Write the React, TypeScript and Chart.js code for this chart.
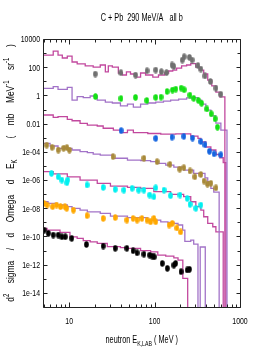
import React, { useEffect, useRef } from "react";
import { Chart, registerables } from "chart.js";

Chart.register(...registerables);

const FONT = "'Liberation Sans', Arial, sans-serif";
const SQUEEZE = 0.73; // horizontal squeeze of the narrow Helvetica-like lettering

const TITLE = "C + Pb  290 MeV/A   all b";

const X_MIN = 5;
const X_MAX = 1000;
const Y_MIN = 1e-15;
const Y_MAX = 1e4;

const xTickValues = [10, 100, 1000];
const xTickLabels = ["10", "100", "1000"];
const yTickValues = [1e4, 1e2, 1, 1e-2, 1e-4, 1e-6, 1e-8, 1e-10, 1e-12, 1e-14];
const yTickLabels = ["10000", "100", "1", "0.01", "1e-04", "1e-06", "1e-08", "1e-10", "1e-12", "1e-14"];

// value used for an empty histogram bin (falls below the axis)
const EMPTY_BIN = 1e-30;

// ---- series 1 (gray) ----
const histAEdges = [5, 6.5, 7.4, 8.3, 9.5, 10.8, 12.4, 15.4, 19.1, 23.1, 26.5, 28.7, 32, 37.6, 42, 46.8, 52.2, 61.3, 68.5, 78.4, 95.3, 111, 131, 146, 163, 181, 207, 237, 265, 304, 338, 376, 419, 467, 522, 580, 665];
const histAValues = [730, 1400, 730, 450, 620, 235, 170, 123, 100, 144, 46, 123, 100, 39, 28, 46, 33, 20, 39, 28, 20, 28, 39, 54, 63, 87, 123, 144, 182, 100, 63, 33, 12.3, 4.7, 1.74, 0.78];
const grayE = [20.2, 40.3, 59.8, 81.5, 103, 120, 138, 160, 168, 211, 222, 256, 275, 322, 348, 389, 450, 522, 597];
const grayV = [33, 41, 28, 56, 63, 48, 41, 144, 112, 324, 550, 500, 324, 132, 74, 24, 9.8, 3.3, 1.2];

// ---- series 2 (green) ----
const histBEdges = [5, 6.5, 7.4, 9.5, 10.8, 12.4, 14.6, 17.6, 21.3, 26.5, 32, 39.8, 48.1, 56.4, 68.5, 83.2, 103, 127, 154, 191, 237, 287, 322, 356, 398, 456, 522, 597, 704];
const histBValues = [3.2, 4.2, 2.7, 3.7, 0.47, 0.81, 0.7, 0.91, 0.47, 0.34, 0.29, 0.18, 0.24, 0.15, 0.24, 0.29, 0.34, 0.4, 0.47, 0.55, 0.66, 0.69, 0.47, 0.24, 0.091, 0.035, 0.011, 0.0035];
const greenE = [20.3, 40.4, 59.8, 81, 103, 119, 140, 162, 177, 205, 222, 259, 287, 325, 355, 410, 460, 510, 545];
const greenV = [0.83, 0.6, 0.72, 0.44, 0.72, 0.76, 1.9, 2.4, 2.8, 3.3, 2.5, 1.05, 0.63, 0.45, 0.28, 0.11, 0.05, 0.022, 0.0056];

// ---- series 3 (blue) ----
const histCEdges = [5, 6.5, 7.4, 9.5, 10.8, 13.4, 16.3, 21.3, 25, 32.9, 39.8, 48.1, 56.4, 83.2, 118, 177, 265, 322, 348, 398, 456, 522, 580, 636, 684];
const histCValues = [0.041, 0.028, 0.031, 0.02, 0.016, 0.0105, 0.0079, 0.0068, 0.0047, 0.0035, 0.0023, 0.0035, 0.0023, 0.002, 0.0018, 0.0019, 0.0013, 0.00091, 0.0005, 0.00022, 0.000135, 0.000065, 0.000038, 0.000017];
const blueE = [40.6, 103, 160, 220, 278, 348, 389, 439, 497, 597];
const blueV = [0.0032, 0.00091, 0.0011, 0.00126, 0.00095, 0.00054, 0.00032, 0.00011, 0.000072, 0.000062];

// ---- series 4 (olive) ----
const histDEdges = [5, 5.97, 7.4, 10.8, 13.4, 16.3, 19.1, 23.1, 32.9, 48.1, 68.5, 89.8, 109, 135, 168, 219, 287, 389, 419, 456, 493, 570];
const histDValues = [4.0e-4, 2.6e-4, 1.78e-4, 1.35e-4, 1.02e-4, 8.9e-5, 6.9e-5, 5.9e-5, 3.5e-5, 2.6e-5, 2.4e-5, 2.0e-5, 1.5e-5, 1.15e-5, 8.3e-6, 5.1e-6, 3.0e-6, 1.45e-6, 7.6e-7, 2.6e-7, 1.4e-7];
const oliveE = [5.45, 6.3, 7.45, 8.6, 9.4, 10.05, 32.6, 74.9, 107, 151, 197, 220, 260, 296, 348, 380, 416, 456, 522];
const oliveV = [3.0e-4, 2.1e-4, 1.35e-4, 1.8e-4, 2.0e-4, 1.35e-4, 4.6e-5, 3.5e-5, 2.0e-5, 1.3e-5, 6.0e-6, 7.4e-6, 4.4e-6, 1.7e-6, 2.5e-6, 8.5e-7, 5.2e-7, 5.9e-7, 2.8e-7];

// ---- series 5 (cyan) ----
const histEEdges = [5, 6.5, 9.5, 13.4, 21.3, 30.4, 48.1, 68.5, 97.9, 154, 219, 265, 304, 348, 376, 419, 480, 522, 636];
const histEValues = [3.9e-6, 2.7e-6, 1.7e-6, 1.0e-6, 5.9e-7, 3.7e-7, 3.0e-7, 2.6e-7, 1.5e-7, 9.8e-8, 6.6e-8, 2.9e-8, 1.3e-8, 7.4e-9, 2.5e-9, 8.5e-10, 4.9e-10, 2.1e-10];
const cyanE = [6.2, 7.45, 8.2, 9.4, 9.6, 16.2, 25, 34.6, 43.6, 54.5, 65, 74.9, 87.5, 98, 103, 129, 154, 198, 241, 260, 304, 348];
const cyanV = [3.0e-6, 1.7e-6, 1.0e-6, 6.5e-7, 1.0e-6, 4.5e-7, 3.0e-7, 2.2e-7, 1.95e-7, 2.6e-7, 1.95e-7, 1.95e-7, 8.7e-8, 6.6e-8, 2.8e-7, 1.95e-7, 7.8e-8, 8.7e-8, 5.0e-8, 1.9e-8, 1.0e-8, 1.7e-8];

// ---- series 6 (orange) ----
const histFEdges = [5, 5.65, 7.2, 9.5, 10.8, 13.4, 16.3, 23.1, 30.4, 48.1, 83.2, 118, 143, 168, 188, 213, 226, 265, 287, 322, 342, 392];
const histFValues = [2.9e-8, 2.2e-8, 1.7e-8, 1.3e-8, 9.8e-9, 7.4e-9, 5.6e-9, 4.4e-9, 2.8e-9, 2.2e-9, 1.45e-9, 1.1e-9, 9.8e-10, 8.5e-10, 6.5e-10, 2.8e-10, 4.5e-11, 5.5e-11, 2.9e-11, EMPTY_BIN, 1.8e-11];
const orangeE = [5.07, 5.5, 6.4, 7.1, 7.9, 8.9, 9.35, 11.2, 16.2, 25, 34.6, 47.3, 56, 62.4, 71, 81.5, 89.8, 98, 103, 148, 161, 182, 202];
const orangeV = [2.2e-8, 1.7e-8, 1.3e-8, 1.7e-8, 1.3e-8, 1.3e-8, 1.0e-8, 7.4e-9, 3.0e-9, 1.9e-9, 2.2e-9, 1.45e-9, 1.9e-9, 1.45e-9, 1.9e-9, 1.45e-9, 1.1e-9, 1.9e-9, 1.1e-9, 6.5e-10, 8.5e-10, 4.0e-10, 2.1e-10];

// ---- series 7 (black) ----
const histGEdges = [5, 5.5, 7.8, 10.2, 12.4, 14.6, 17.6, 21.3, 27.9, 39.8, 48.1, 68.5, 89.8, 109, 135, 168, 188, 214, 244];
const histGValues = [3.7e-10, 2.8e-10, 1.95e-10, 9.5e-11, 7.4e-11, 5.1e-11, 4.2e-11, 3.2e-11, 1.9e-11, 1.6e-11, 1.45e-11, 1.0e-11, 8.1e-12, 4.8e-12, 4.1e-12, 3.0e-12, 2.1e-12, 1.07e-13];
const blackE = [5.1, 5.7, 6.5, 7.45, 8.2, 9.0, 10.7, 15.9, 25, 34.6, 47.3, 56, 62.4, 74.9, 87.5, 93.5, 99, 123, 141, 168, 176, 204, 241, 256];
const blackV = [2.8e-10, 1.66e-10, 1.26e-10, 1.26e-10, 9.5e-11, 9.5e-11, 7.4e-11, 2.7e-11, 2.1e-11, 1.45e-11, 1.45e-11, 9.8e-12, 6.9e-12, 5.6e-12, 4.8e-12, 4.1e-12, 3.6e-12, 1.23e-12, 5.5e-13, 9.3e-13, 1.23e-12, 3.2e-13, 4.2e-13, 4.7e-13];

const MAGENTA = "#c2489e";
const PURPLE = "#a273c8";

const pointSeries = [
  { e: grayE, v: grayV, color: "#707070" },
  { e: greenE, v: greenV, color: "#14e014" },
  { e: blueE, v: blueV, color: "#1565e0" },
  { e: oliveE, v: oliveV, color: "#a88a3a" },
  { e: cyanE, v: cyanV, color: "#00f0f0" },
  { e: orangeE, v: orangeV, color: "#ffa800" },
  { e: blackE, v: blackV, color: "#000000" },
];

const histSeries = [
  { edges: histAEdges, values: histAValues, color: MAGENTA },
  { edges: histBEdges, values: histBValues, color: PURPLE },
  { edges: histCEdges, values: histCValues, color: MAGENTA },
  { edges: histDEdges, values: histDValues, color: PURPLE },
  { edges: histEEdges, values: histEValues, color: MAGENTA },
  { edges: histFEdges, values: histFValues, color: PURPLE },
  { edges: histGEdges, values: histGValues, color: MAGENTA },
];

type Seg = { t: string; sup?: boolean; sub?: boolean };

const yTitle: Seg[] = [
  { t: "d" }, { t: "2", sup: true }, { t: " sigma / d Omega d E" }, { t: "K", sub: true },
  { t: "  ( mb MeV" }, { t: "-1", sup: true }, { t: " sr" }, { t: "-1", sup: true }, { t: " )" },
];
const xTitle: Seg[] = [
  { t: "neutron E" }, { t: "K,LAB", sub: true }, { t: " ( MeV )" },
];

function ellipseMarker(color: string): HTMLCanvasElement {
  const c = document.createElement("canvas");
  c.width = 5;
  c.height = 7;
  const g = c.getContext("2d")!;
  g.fillStyle = color;
  g.beginPath();
  g.ellipse(2.5, 3.5, 2.3, 3.3, 0, 0, Math.PI * 2);
  g.fill();
  return c;
}

// Draws rich text (with super/subscripts) centred on cx, in a horizontally
// squeezed frame. `gap` (if given) replaces each space by a fixed advance.
function drawRich(
  ctx: CanvasRenderingContext2D,
  segs: Seg[],
  cx: number,
  baseY: number,
  size: number,
  gap?: number
) {
  const small = size * 0.72;
  type Piece = { t: string; font: string; dy: number; w: number };
  const pieces: Piece[] = [];
  segs.forEach((s) => {
    const font = `${s.sup || s.sub ? small : size}px ${FONT}`;
    const dy = s.sup ? -size * 0.42 : s.sub ? size * 0.28 : 0;
    ctx.font = font;
    if (gap === undefined) {
      pieces.push({ t: s.t, font, dy, w: ctx.measureText(s.t).width * SQUEEZE });
    } else {
      const parts = s.t.split(" ");
      parts.forEach((p, i) => {
        if (i > 0) pieces.push({ t: "", font, dy, w: gap });
        if (p) pieces.push({ t: p, font, dy, w: ctx.measureText(p).width * SQUEEZE });
      });
    }
  });
  const total = pieces.reduce((a, p) => a + p.w, 0);
  let x = cx - total / 2;
  ctx.textAlign = "left";
  ctx.textBaseline = "alphabetic";
  pieces.forEach((p) => {
    if (p.t) {
      ctx.save();
      ctx.font = p.font;
      ctx.translate(x, baseY + p.dy);
      ctx.scale(SQUEEZE, 1);
      ctx.fillText(p.t, 0, 0);
      ctx.restore();
    }
    x += p.w;
  });
}

function squeezedText(
  ctx: CanvasRenderingContext2D,
  text: string,
  x: number,
  y: number,
  size: number,
  align: CanvasTextAlign,
  baseline: CanvasTextBaseline
) {
  ctx.save();
  ctx.font = `${size}px ${FONT}`;
  ctx.textAlign = align;
  ctx.textBaseline = baseline;
  ctx.translate(x, y);
  ctx.scale(SQUEEZE, 1);
  ctx.fillText(text, 0, 0);
  ctx.restore();
}

const framePlugin = {
  id: "frameTicks",
  afterDatasetsDraw(chart: any) {
    const { ctx, chartArea: a, scales } = chart;
    const xs = scales.x;
    const ys = scales.y;
    const L = Math.floor(a.left) + 0.5;
    const R = Math.floor(a.right) + 0.5;
    const T = Math.floor(a.top) + 0.5;
    const B = Math.floor(a.bottom) + 0.5;
    ctx.save();
    ctx.strokeStyle = "#222222";
    ctx.lineWidth = 1;
    ctx.beginPath();
    ctx.rect(L, T, R - L, B - T);
    for (let p = -15; p <= 4; p++) {
      const py = Math.round(ys.getPixelForValue(Math.pow(10, p))) + 0.5;
      const len = p % 2 === 0 ? 4 : 3;
      ctx.moveTo(L, py);
      ctx.lineTo(L + len, py);
      ctx.moveTo(R, py);
      ctx.lineTo(R - len, py);
    }
    for (let p = 0; p <= 3; p++) {
      for (let m = 1; m <= 9; m++) {
        const v = m * Math.pow(10, p);
        if (v < X_MIN || v > X_MAX) continue;
        const px = Math.round(xs.getPixelForValue(v)) + 0.5;
        const len = m === 1 ? 5 : 3;
        ctx.moveTo(px, B);
        ctx.lineTo(px, B - len);
        ctx.moveTo(px, T);
        ctx.lineTo(px, T + len);
      }
    }
    ctx.stroke();
    ctx.restore();
  },
};

const textPlugin = {
  id: "texts",
  afterDraw(chart: any) {
    const { ctx, chartArea: a, scales } = chart;
    const xs = scales.x;
    const ys = scales.y;
    const cx = (a.left + a.right) / 2;
    const cy = (a.top + a.bottom) / 2;
    ctx.save();
    ctx.fillStyle = "#000000";

    // tick labels (from the scales' own ticks)
    xs.ticks.forEach((t: any) => {
      const i = xTickValues.indexOf(t.value);
      if (i < 0) return;
      squeezedText(ctx, xTickLabels[i], xs.getPixelForValue(t.value), a.bottom + 16.5, 9.5, "center", "alphabetic");
    });
    ys.ticks.forEach((t: any) => {
      const i = yTickValues.findIndex((v) => Math.abs(Math.log10(v) - Math.log10(t.value)) < 1e-6);
      if (i < 0) return;
      squeezedText(ctx, yTickLabels[i], a.left - 3.5, ys.getPixelForValue(t.value) + 3.4, 9.5, "right", "alphabetic");
    });

    // title
    squeezedText(ctx, TITLE, cx, 21, 10, "center", "alphabetic");
    // x title
    drawRich(ctx, xTitle, cx, 343, 10);
    // y title (rotated)
    ctx.translate(13.5, cy);
    ctx.rotate(-Math.PI / 2);
    drawRich(ctx, yTitle, 0, 0, 11.5, 10.5);
    ctx.restore();
  },
};

export default function App() {
  const ref = useRef<HTMLCanvasElement | null>(null);

  useEffect(() => {
    const canvas = ref.current;
    if (!canvas) return;

    const pointDatasets = pointSeries.map((s) => ({
      data: s.e.map((e, i) => ({ x: e, y: s.v[i] })),
      showLine: false,
      pointStyle: ellipseMarker(s.color) as any,
      pointRadius: 3,
      borderWidth: 0,
      backgroundColor: s.color,
      borderColor: s.color,
    }));

    const histDatasets = histSeries.map((h) => ({
      data: h.edges.map((e, i) => ({ x: e, y: i < h.values.length ? h.values[i] : EMPTY_BIN })),
      stepped: true,
      borderColor: h.color,
      borderWidth: 1.3,
      pointRadius: 0,
      fill: false,
      tension: 0,
    }));

    const chart = new Chart(canvas, {
      type: "line",
      data: { datasets: [...pointDatasets, ...histDatasets] as any },
      options: {
        responsive: false,
        animation: false,
        devicePixelRatio: 1,
        events: [],
        layout: { padding: { left: 0, top: 39, right: 26, bottom: 0 } },
        plugins: {
          legend: { display: false },
          tooltip: { enabled: false },
          title: { display: false },
        },
        scales: {
          x: {
            type: "logarithmic",
            min: X_MIN,
            max: X_MAX,
            position: "bottom",
            grid: { display: false, drawTicks: false },
            border: { display: false },
            afterBuildTicks: (s: any) => {
              s.ticks = xTickValues.map((v) => ({ value: v }));
            },
            afterFit: (s: any) => {
              s.height = 43;
            },
            ticks: { display: false, autoSkip: false },
          },
          y: {
            type: "logarithmic",
            min: Y_MIN,
            max: Y_MAX,
            position: "left",
            grid: { display: false, drawTicks: false },
            border: { display: false },
            afterBuildTicks: (s: any) => {
              s.ticks = yTickValues.map((v) => ({ value: v }));
            },
            afterFit: (s: any) => {
              s.width = 43.5;
            },
            ticks: { display: false, autoSkip: false },
          },
        },
      } as any,
      plugins: [framePlugin, textPlugin],
    });

    return () => chart.destroy();
  }, []);

  return (
    <div style={{ position: "fixed", left: 0, top: 0, width: 266, height: 350, background: "#ffffff" }}>
      <canvas ref={ref} width={266} height={350} style={{ width: 266, height: 350, display: "block" }} />
    </div>
  );
}
